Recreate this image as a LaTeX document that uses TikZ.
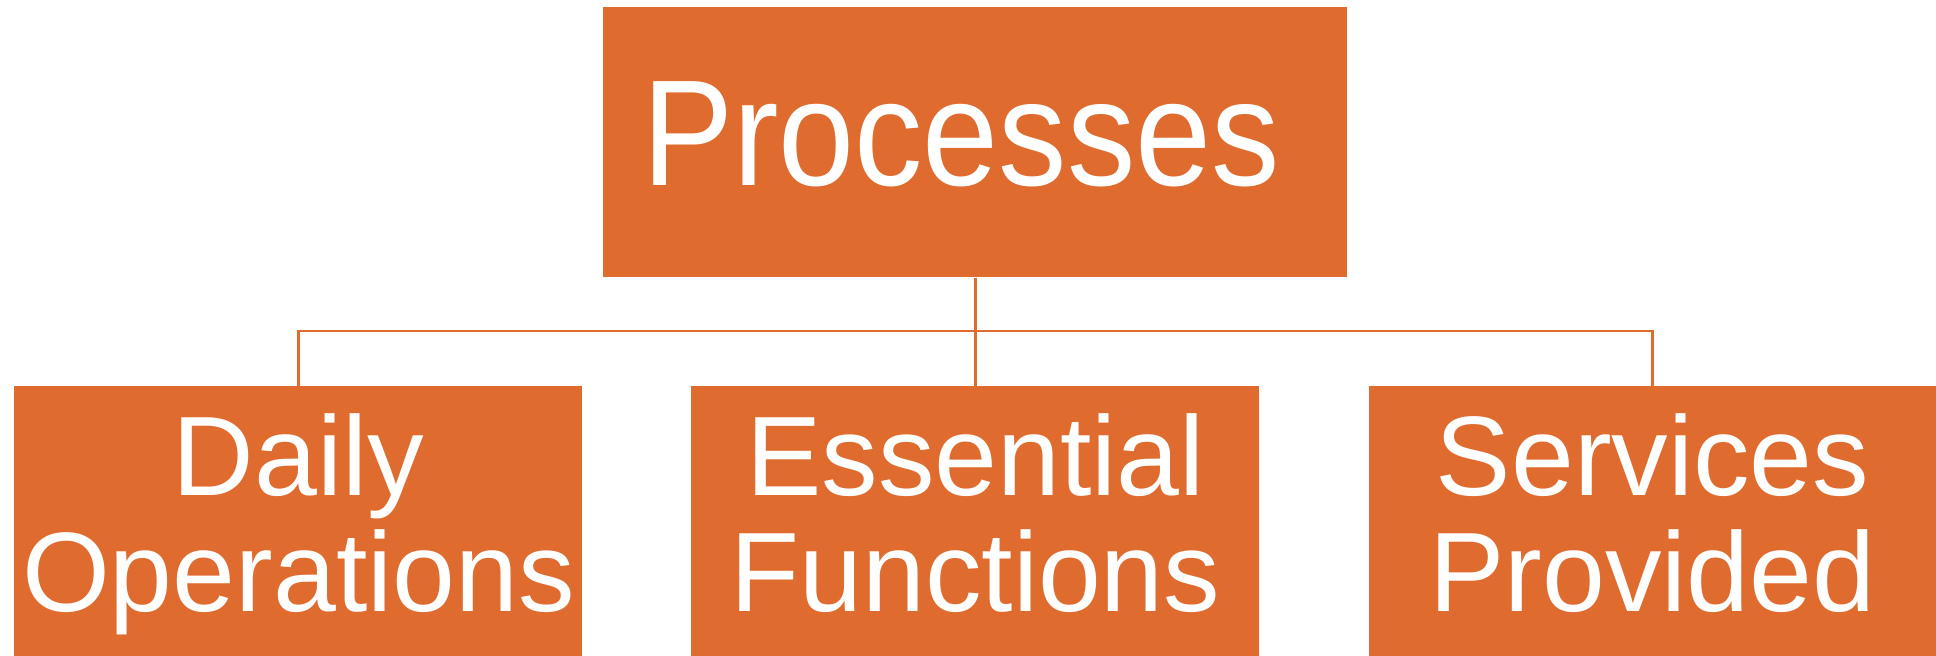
\documentclass[tikz,border=0pt]{standalone}
\usepackage{fontspec}
\setmainfont{Liberation Sans}
\definecolor{accent}{RGB}{223,107,47}
\begin{document}
\begin{tikzpicture}[x=0.5pt,y=0.5pt,
  box/.style={fill=accent,draw=none,inner sep=0pt,anchor=north west},
  conn/.style={draw=accent,line width=1.25pt},
  toplabel/.style={text=white,inner sep=0pt,anchor=base,font=\fontsize{75.5}{77}\selectfont},
  sublabel/.style={text=white,inner sep=0pt,anchor=base,align=center,font=\fontsize{56.5}{58}\selectfont}]
  \useasboundingbox (0,0) rectangle (1936,655);
  % boxes (sizes in pt, positions in half-points measured upward)
  \node[box,minimum width=372pt,minimum height=135pt] (root) at (603,648) {};
  \node[box,minimum width=284pt,minimum height=160pt] (daily) at (14,269) {};
  \node[box,minimum width=284pt,minimum height=160pt] (essential) at (691,269) {};
  \node[box,minimum width=300pt,minimum height=160pt] (services) at (1369,269) {};
  % horizontal bus level
  \coordinate (bus) at (975,324);
  % connectors
  \draw[conn] (root.south) -- (root.south |- bus) -| (daily.north);
  \draw[conn] (root.south) -- (essential.north);
  \draw[conn] (root.south) -- (root.south |- bus) -| (1652.5,269);
  % labels (base anchor sits on the last line)
  \node[toplabel] (roottext) at (961,470) {\scalebox{0.905}[1]{Processes}};
  \node[sublabel] (dailytext) at (daily.north |- 0,44) {Daily\\Operations};
  \node[sublabel] (essentialtext) at (essential.north |- 0,44) {Essential\\Functions};
  \node[sublabel] (servicestext) at (1652.5,44) {Services\\Provided};
\end{tikzpicture}
\end{document}
